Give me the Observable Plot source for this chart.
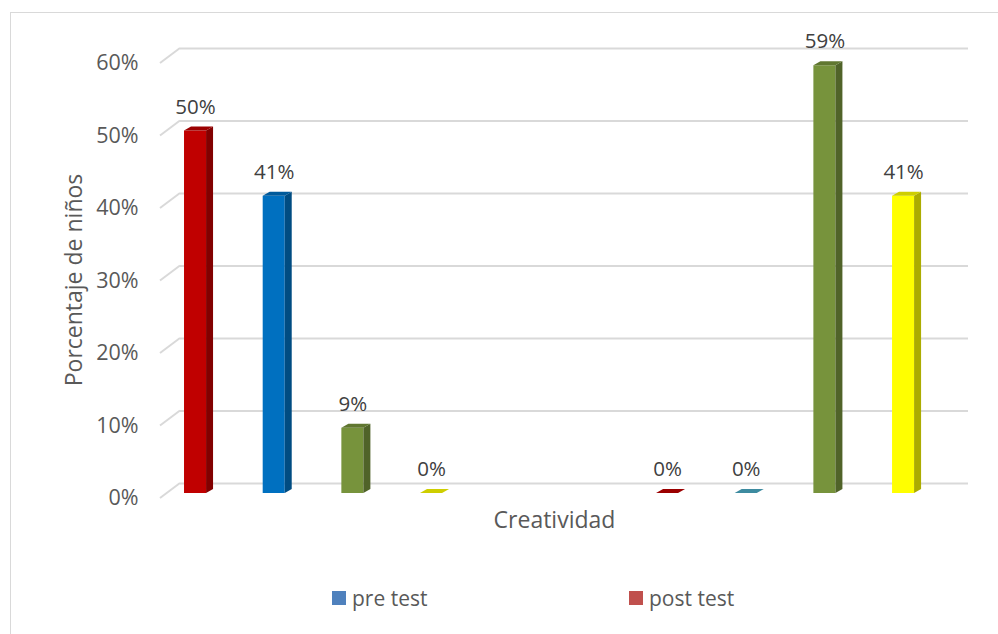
<!DOCTYPE html>
<html>
<head>
<meta charset="utf-8">
<script src="https://cdn.jsdelivr.net/npm/d3@7"></script>
<script src="https://cdn.jsdelivr.net/npm/@observablehq/plot@0.6"></script>
<style>
  html, body { margin: 0; padding: 0; background: #fff; overflow: hidden; width: 998px; height: 634px; }
  body { position: relative; font-family: "Open Sans", sans-serif; color: #595959; }
  #frame { position: absolute; left: 10px; top: 12px; width: 1000px; height: 700px; border: 1px solid #d9d9d9; box-sizing: border-box; }
  #chart { position: absolute; left: 0; top: 0; }
  #legend { position: absolute; left: 0; top: 584px; width: 998px; height: 28px; font-size: 21px; }
  .item { position: absolute; top: 0; display: flex; align-items: center; height: 28px; }
  .sw { width: 14px; height: 14px; margin-right: 6px; }
</style>
</head>
<body>
<div id="frame"></div>
<div id="chart"></div>
<div id="legend"></div>
<script>
// ---- data ----
const seriesNames = ["pre test", "post test"];
const legendColors = ["#4f81bd", "#c0504d"];
const preKeys = ["pre 1", "pre 2", "pre 3", "pre 4"];
const preValues = [0.50, 0.41, 0.09, 0.00];
const preColors = ["#c00000", "#0070c0", "#77933c", "#ffff00"];
const gapKeys = ["gap 1", "gap 2"];
const postKeys = ["post 1", "post 2", "post 3", "post 4"];
const postValues = [0.00, 0.00, 0.59, 0.41];
const postColors = ["#c00000", "#4bacc6", "#77933c", "#ffff00"];
const yTicks = [0, 0.1, 0.2, 0.3, 0.4, 0.5, 0.6];
const xTitle = "Creatividad";
const yTitle = "Porcentaje de niños";

const bars = [
  ...preKeys.map((k, i) => ({key: k, value: preValues[i], color: preColors[i]})),
  ...postKeys.map((k, i) => ({key: k, value: postValues[i], color: postColors[i]}))
];
const xDomain = [...preKeys, ...gapKeys, ...postKeys];
const pct = d => Math.round(d * 100) + "%";

const DX = 7, DY = 4;
function bar3d(index, scales, values, dims, context, next) {
  const g = next(index, scales, values, dims, context);
  const rects = Array.from(g.querySelectorAll("rect"));
  for (const r of rects) {
    const x0 = +r.getAttribute("x"), w = +r.getAttribute("width");
    const t = +r.getAttribute("y"), h = +r.getAttribute("height");
    const b = t + h, x1 = x0 + w;
    const fill = r.getAttribute("fill");
    const side = d3.color(fill).darker(1.1).formatHex();
    const top = d3.color(fill).darker(0.6).formatHex();
    const parent = r.parentNode;
    const s = document.createElementNS("http://www.w3.org/2000/svg", "polygon");
    s.setAttribute("points", `${x1},${b} ${x1 + DX},${b - DY} ${x1 + DX},${t - DY} ${x1},${t}`);
    s.setAttribute("fill", side);
    parent.appendChild(s);
    const tp = document.createElementNS("http://www.w3.org/2000/svg", "polygon");
    tp.setAttribute("points", `${x0},${t} ${x1},${t} ${x1 + DX},${t - DY} ${x0 + DX},${t - DY}`);
    tp.setAttribute("fill", top);
    parent.appendChild(tp);
  }
  return g;
}

function diag(index, scales, values, dims) {
  const g = d3.create("svg:g");
  for (const i of index) {
    const y = values.y[i];
    g.append("line")
      .attr("x1", dims.marginLeft - 20).attr("y1", y + 5)
      .attr("x2", dims.marginLeft).attr("y2", y - 10)
      .attr("stroke", "#d9d9d9").attr("stroke-width", 2);
  }
  return g.node();
}

const chart = Plot.plot({
  width: 998,
  height: 560,
  marginLeft: 180,
  marginRight: 30,
  marginTop: 58,
  marginBottom: 67,
  style: {fontFamily: "Open Sans, sans-serif", fontSize: "20px", color: "#595959", background: "transparent"},
  x: {type: "band", domain: xDomain, range: [155.7, 942.4], paddingInner: 0.72, paddingOuter: 0.36, round: false, axis: null},
  y: {domain: [0, 0.6], axis: null},
  marks: [
    Plot.ruleY(yTicks, {y: d => d, stroke: "#d9d9d9", strokeWidth: 2, dy: -10}),
    Plot.ruleY(yTicks, {y: d => d, render: diag}),
    Plot.axisY(yTicks, {tickSize: 0, tickPadding: 42, tickFormat: pct, fontSize: 21.5, fill: "#595959", dy: 5, label: null}),
    Plot.barY(bars, {x: "key", y: "value", fill: "color", render: bar3d}),
    Plot.text(bars, {x: "key", y: "value", text: d => pct(d.value), dy: -24, fontSize: 20.5, fill: "#404040"}),
    Plot.text([xTitle], {frameAnchor: "bottom", text: d => d, dx: -20, dy: 34, fontSize: 23, fill: "#595959"}),
    Plot.text([yTitle], {frameAnchor: "left", textAnchor: "middle", text: d => d, rotate: -90, dx: -106, dy: 4, fontSize: 23, fill: "#595959"})
  ]
});
document.getElementById("chart").appendChild(chart);

// legend
const legendLefts = [332, 629];
const legend = document.getElementById("legend");
seriesNames.forEach((name, i) => {
  const it = document.createElement("div");
  it.className = "item";
  it.style.left = legendLefts[i] + "px";
  it.innerHTML = `<span class="sw" style="background:${legendColors[i]}"></span><span>${name}</span>`;
  legend.appendChild(it);
});
</script>
</body>
</html>
